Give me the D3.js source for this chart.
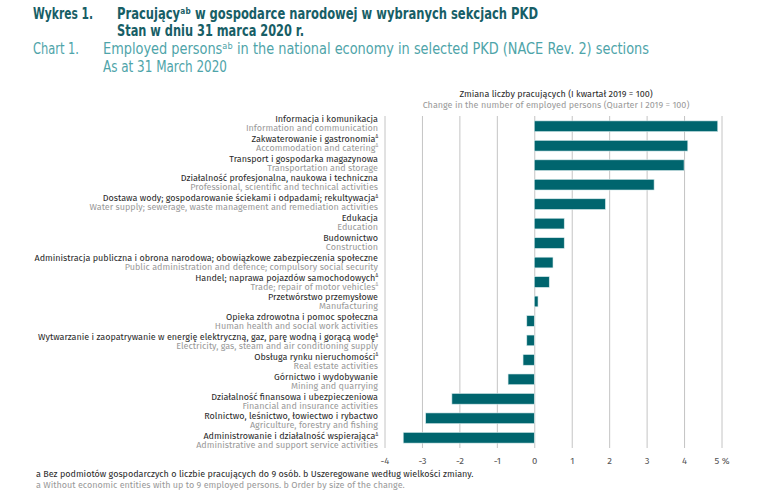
<!DOCTYPE html>
<html>
<head>
<meta charset="utf-8">
<script src="https://cdn.jsdelivr.net/npm/d3@7"></script>
<style>
  body { margin: 0; background: #fff; }
  svg { display: block; }
  .title-pl { font-family: "DejaVu Sans Condensed", "Liberation Sans Narrow", sans-serif; font-weight: bold; fill: #175e66; }
  .title-en { font-family: "DejaVu Sans Condensed", "Liberation Sans Narrow", sans-serif; fill: #4ea4a9; }
  .lab { font-family: "Fira Sans", "Open Sans", sans-serif; }
  .pl { fill: #2a2a2a; }
  .en { fill: #9a9a9a; }
</style>
</head>
<body>
<div id="chart"></div>
<script>
// sections (sorted by size of change), Polish + English names
var sectionsPl = [
  "Informacja i komunikacja",
  "Zakwaterowanie i gastronomia",
  "Transport i gospodarka magazynowa",
  "Działalność profesjonalna, naukowa i techniczna",
  "Dostawa wody; gospodarowanie ściekami i odpadami; rekultywacja",
  "Edukacja",
  "Budownictwo",
  "Administracja publiczna i obrona narodowa; obowiązkowe zabezpieczenia społeczne",
  "Handel; naprawa pojazdów samochodowych",
  "Przetwórstwo przemysłowe",
  "Opieka zdrowotna i pomoc społeczna",
  "Wytwarzanie i zaopatrywanie w energię elektryczną, gaz, parę wodną i gorącą wodę",
  "Obsługa rynku nieruchomości",
  "Górnictwo i wydobywanie",
  "Działalność finansowa i ubezpieczeniowa",
  "Rolnictwo, leśnictwo, łowiectwo i rybactwo",
  "Administrowanie i działalność wspierająca"
];
var sectionsEn = [
  "Information and communication",
  "Accommodation and catering",
  "Transportation and storage",
  "Professional, scientific and technical activities",
  "Water supply; sewerage, waste management and remediation activities",
  "Education",
  "Construction",
  "Public administration and defence; compulsory social security",
  "Trade; repair of motor vehicles",
  "Manufacturing",
  "Human health and social work activities",
  "Electricity, gas, steam and air conditioning supply",
  "Real estate activities",
  "Mining and quarrying",
  "Financial and insurance activities",
  "Agriculture, forestry and fishing",
  "Administrative and support service activities"
];
// footnote mark (Δ) after the name: 0 none, 1 Polish only, 2 both
var marks = [0, 2, 0, 0, 1, 0, 0, 0, 2, 0, 0, 1, 1, 0, 0, 0, 1];
// change in employed persons, %
var changes = [4.9, 4.1, 4.0, 3.2, 1.9, 0.8, 0.8, 0.5, 0.4, 0.1, -0.2, -0.2, -0.3, -0.7, -2.2, -2.9, -3.5];
var ticks = [-4, -3, -2, -1, 0, 1, 2, 3, 4, 5];

var width = 768, height = 496;

var svg = d3.select("#chart")
  .append("svg")
  .attr("width", width)
  .attr("height", height);

// titles (each line squeezed to the width it has in the original)
function titleText(cls, size, x, y, len, txt) {
  return svg.append("text").attr("class", cls).attr("font-size", size)
    .attr("x", x).attr("y", y)
    .attr("textLength", len).attr("lengthAdjust", "spacingAndGlyphs")
    .text(txt);
}
titleText("title-pl", 15, 33, 19, 60, "Wykres 1.");
titleText("title-pl", 15, 117, 19, 421, "Pracujący\u1d43\u1d47 w gospodarce narodowej w wybranych sekcjach PKD");
titleText("title-pl", 15, 117, 36, 187, "Stan w dniu 31 marca 2020 r.");

titleText("title-en", 16, 33, 54, 46, "Chart 1.");
titleText("title-en", 16, 103, 54, 546, "Employed persons\u1d43\u1d47 in the national economy in selected PKD (NACE Rev. 2) sections");
titleText("title-en", 16, 103, 72, 124, "As at 31 March 2020");

// scales
var xPositionScale = d3.scaleLinear().domain([-4, 5]).range([384.5, 721.5]);
var yPositionScale = d3.scaleBand().domain(sectionsPl).range([117, 447]).paddingInner(0.45).paddingOuter(0.2);
var labelScale = d3.scaleBand().domain(sectionsPl).range([114, 451]);

// axis header
svg.append("text").attr("class", "lab pl").attr("font-size", 9)
  .attr("x", 556).attr("y", 97).attr("text-anchor", "middle")
  .text("Zmiana liczby pracujących (I kwartał 2019 = 100)");
svg.append("text").attr("class", "lab en").attr("font-size", 9)
  .attr("x", 556).attr("y", 108).attr("text-anchor", "middle")
  .text("Change in the number of employed persons (Quarter I 2019 = 100)");

// grid lines + tick labels
var xAxis = d3.axisBottom(xPositionScale)
  .tickValues(ticks)
  .tickSize(332)
  .tickFormat(function(d) { return d === 5 ? "5 %" : (d < 0 ? "-" + Math.abs(d) : d); });

var gx = svg.append("g")
  .attr("class", "x-axis")
  .attr("transform", "translate(0,116)")
  .call(xAxis);
gx.select(".domain").remove();
gx.selectAll(".tick line").attr("stroke", "#c4c4c4").attr("stroke-width", 1);
gx.selectAll(".tick text")
  .attr("y", 341)
  .attr("font-family", "'Fira Sans', 'Open Sans', sans-serif")
  .attr("font-size", 9.5)
  .attr("fill", "#555");

// bars
svg.selectAll("rect.bar")
  .data(changes)
  .enter().append("rect")
  .attr("class", "bar")
  .attr("x", function(d) { return xPositionScale(Math.min(0, d)); })
  .attr("y", function(d, i) { return yPositionScale(sectionsPl[i]); })
  .attr("width", function(d) { return Math.abs(xPositionScale(d) - xPositionScale(0)); })
  .attr("height", yPositionScale.bandwidth())
  .attr("fill", "#00656e")
  .attr("stroke", "#d6eaec")
  .attr("stroke-width", 0.6);

// category labels
var labels = svg.selectAll("g.label")
  .data(sectionsPl)
  .enter().append("g")
  .attr("class", "label")
  .attr("transform", function(d) { return "translate(378," + labelScale(d) + ")"; });

var plText = labels.append("text")
  .attr("class", "lab pl")
  .attr("font-size", 9)
  .attr("y", 8)
  .attr("text-anchor", "end");
plText.append("tspan").text(function(d) { return d; });
plText.append("tspan")
  .attr("font-size", 4.5).attr("dy", -3.5)
  .text(function(d, i) { return marks[i] > 0 ? "Δ" : ""; });

var enText = labels.append("text")
  .attr("class", "lab en")
  .attr("font-size", 9)
  .attr("y", 17)
  .attr("text-anchor", "end");
enText.append("tspan").text(function(d, i) { return sectionsEn[i]; });
enText.append("tspan")
  .attr("font-size", 4.5).attr("dy", -3.5)
  .text(function(d, i) { return marks[i] > 1 ? "Δ" : ""; });

// footnotes
svg.append("text").attr("class", "lab pl").attr("font-size", 9)
  .attr("x", 36).attr("y", 477)
  .text("a Bez podmiotów gospodarczych o liczbie pracujących do 9 osób. b Uszeregowane według wielkości zmiany.");
svg.append("text").attr("class", "lab en").attr("font-size", 9)
  .attr("x", 36).attr("y", 488)
  .text("a Without economic entities with up to 9 employed persons. b Order by size of the change.");
</script>
</body>
</html>
